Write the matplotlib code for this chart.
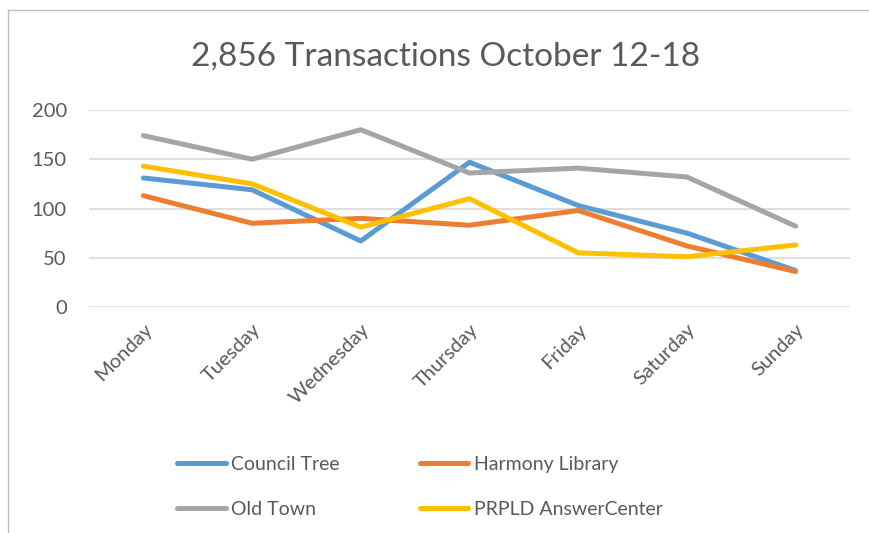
import matplotlib
matplotlib.use('Agg')
import matplotlib.pyplot as plt
from matplotlib.lines import Line2D

plt.rcParams['font.family'] = ['Lato', 'DejaVu Sans']

days = ['Monday', 'Tuesday', 'Wednesday', 'Thursday', 'Friday', 'Saturday', 'Sunday']
council_tree = [131, 119, 67, 147, 103, 75, 37]
harmony_library = [113, 85, 90, 83, 98, 62, 36]
old_town = [174, 150, 180, 136, 141, 132, 82]
prpld_answer = [143, 125, 81, 110, 55, 51, 63]

series = [
    ('Council Tree', council_tree, '#5B9BD5'),
    ('Harmony Library', harmony_library, '#ED7D31'),
    ('Old Town', old_town, '#A5A5A5'),
    ('PRPLD AnswerCenter', prpld_answer, '#FFC000'),
]

TXT = '#595959'

fig = plt.figure(figsize=(8.69, 5.33), dpi=100)
ax = fig.add_axes([89/869, 1 - 307/533, 761/869, 197/533])

x = list(range(len(days)))
lines = []
for name, vals, col in series:
    ln, = ax.plot(x, vals, color=col, lw=3.6, label=name, solid_capstyle='round',
                  solid_joinstyle='round')
    lines.append(ln)

ax.set_xlim(-0.5, len(days) - 0.5)
ax.set_ylim(0, 200)
ax.set_yticks([0, 50, 100, 150, 200])
ax.set_xticks(x)
ax.set_xticklabels(days, rotation=45, ha='right', va='top', rotation_mode='anchor')
ax.tick_params(axis='both', length=0, labelsize=14.5, labelcolor=TXT)
ax.tick_params(axis='y', pad=16)
ax.tick_params(axis='x', pad=10)
ax.grid(axis='y', color='#D9D9D9', lw=1.2)
ax.set_axisbelow(True)
for s in ax.spines.values():
    s.set_visible(False)

fig.text(446/869, 1 - 57/533, '2,856 Transactions October 12-18',
         ha='center', va='center', fontsize=24, color=TXT)

# row-wise order like the original legend
order = [0, 2, 1, 3]
leg = fig.legend([lines[i] for i in order], [series[i][0] for i in order],
                 loc='upper left', bbox_to_anchor=(177/869, 1 - 456/533),
                 ncol=2, frameon=False, fontsize=14, handlelength=2.5,
                 handletextpad=0.3, columnspacing=4.1, labelspacing=1.45,
                 borderpad=0, borderaxespad=0)
for t in leg.get_texts():
    t.set_color(TXT)

# chart frame (left and top edges visible)
fig.add_artist(Line2D([8/869, 8/869], [0, 1 - 10/533], transform=fig.transFigure,
                      color='#BFBFBF', lw=1))
fig.add_artist(Line2D([8/869, 1], [1 - 10/533, 1 - 10/533], transform=fig.transFigure,
                      color='#BFBFBF', lw=1))

fig.savefig('out.png', dpi=100)
